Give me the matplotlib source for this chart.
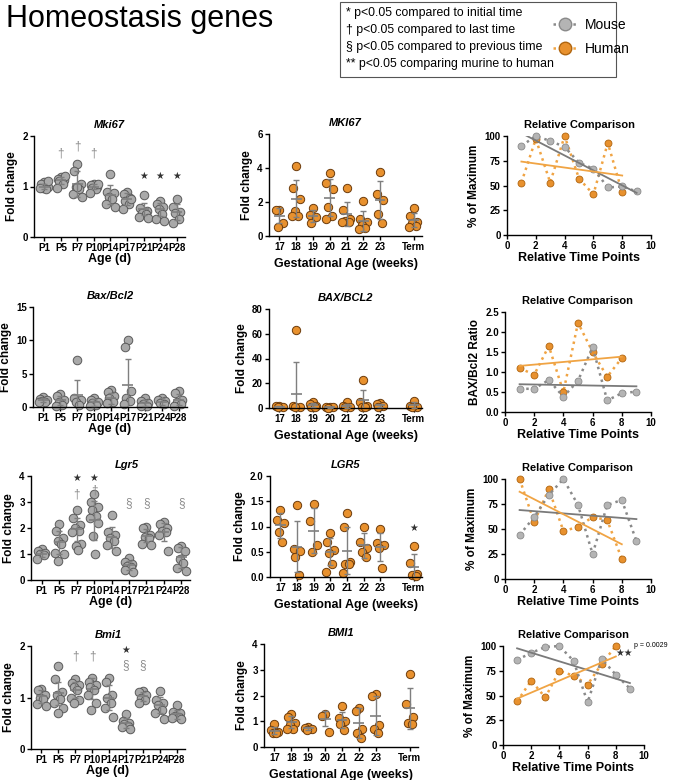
import numpy as np
import matplotlib
matplotlib.use('Agg')
import matplotlib.pyplot as plt
from matplotlib.lines import Line2D
from matplotlib.patches import Rectangle

plt.rcParams['font.family'] = ['Liberation Sans', 'DejaVu Sans']

# ---- data ----
mouse_ages = ['P1', 'P5', 'P7', 'P10', 'P14', 'P17', 'P21', 'P24', 'P28']
human_ages = ['17', '18', '19', '20', '21', '22', '23', 'Term']

# Mki67
mki67_mouse = [[1.08, 1.05, 1.0, 0.98, 0.95, 0.97, 1.1],
               [1.18, 1.15, 1.12, 1.1, 1.05, 0.98, 1.2],
               [1.45, 1.3, 1.05, 1.0, 0.95, 0.85, 0.8, 1.0],
               [1.05, 1.02, 1.0, 0.98, 0.95, 0.88, 1.05],
               [1.25, 0.9, 0.88, 0.8, 0.75, 0.65, 0.6],
               [0.9, 0.85, 0.78, 0.72, 0.65, 0.55, 0.75],
               [0.83, 0.58, 0.52, 0.48, 0.45, 0.4, 0.38],
               [0.72, 0.65, 0.6, 0.55, 0.45, 0.35, 0.32],
               [0.75, 0.6, 0.5, 0.48, 0.35, 0.28]]
mki67_mouse_mean = [1.0, 1.12, 1.05, 1.0, 0.84, 0.75, 0.55, 0.55, 0.5]
mki67_mouse_sd = [0.05, 0.07, 0.25, 0.05, 0.18, 0.12, 0.12, 0.13, 0.16]
mki67_mouse_marks = [('P5', '†', 1.65), ('P7', '†', 1.8), ('P10', '†', 1.65),
                     ('P21', '★', 1.2), ('P24', '★', 1.2), ('P28', '★', 1.2)]

mki67_human = [[1.55, 1.55, 0.75, 0.55],
               [4.1, 2.85, 2.2, 1.45, 1.2, 1.15],
               [1.65, 1.25, 1.1, 0.75],
               [3.7, 3.1, 2.75, 1.7, 1.2, 1.0],
               [2.8, 1.55, 1.0, 0.9, 0.85, 0.8],
               [2.05, 1.0, 0.8, 0.65, 0.45, 0.4],
               [3.75, 2.5, 2.1, 1.3, 0.75],
               [1.65, 1.15, 0.85, 0.75, 0.6, 0.55]]
mki67_human_mean = [1.2, 2.2, 1.2, 2.25, 1.3, 0.9, 2.1, 0.95]
mki67_human_sd = [0.45, 1.1, 0.35, 1.1, 0.72, 0.6, 1.12, 0.4]

# Bax/Bcl2
bax_mouse = [[1.5, 1.2, 1.0, 0.9, 0.8, 0.7],
             [1.9, 1.6, 1.1, 0.8, 0.3, 0.2],
             [7.0, 1.3, 1.1, 0.8, 0.3],
             [1.4, 1.0, 0.8, 0.6, 0.3, 0.1],
             [2.6, 2.2, 1.7, 1.3, 0.8, 0.6],
             [10.1, 9.0, 2.4, 1.3, 0.9, 0.5],
             [1.3, 0.9, 0.6, 0.4, 0.2, 0.1],
             [1.4, 1.1, 0.9, 0.6, 0.4],
             [2.4, 2.1, 1.0, 0.8, 0.4, 0.2]]
bax_mouse_mean = [1.0, 1.0, 1.75, 0.7, 1.3, 3.3, 0.6, 0.8, 1.1]
bax_mouse_sd = [0.3, 0.7, 2.25, 0.5, 0.8, 3.9, 0.5, 0.5, 0.8]

bax_human = [[2.0, 1.5, 1.0, 0.5],
             [63.0, 2.0, 1.0, 0.5],
             [5.0, 3.0, 2.0, 1.0, 0.5],
             [1.0, 0.8, 0.5, 0.3],
             [4.5, 2.0, 1.0, 0.5],
             [23.0, 5.0, 2.0, 1.0, 0.5],
             [4.0, 3.0, 1.5, 1.0],
             [6.0, 2.0, 1.0, 0.5]]
bax_human_mean = [1.0, 11.5, 2.3, 0.6, 1.5, 6.3, 2.2, 2.4]
bax_human_sd = [0.5, 25.5, 1.8, 0.3, 1.5, 8.0, 1.3, 2.4]

# Lgr5
lgr5_mouse = [[1.18, 1.1, 1.05, 1.0, 0.95, 0.8],
              [2.15, 1.9, 1.6, 1.5, 1.4, 1.05, 1.0, 0.75],
              [2.7, 2.4, 2.1, 2.0, 1.9, 1.85, 1.4, 1.3, 1.15],
              [3.3, 3.0, 2.8, 2.7, 2.45, 2.4, 2.2, 1.7, 1.0],
              [2.5, 1.85, 1.75, 1.6, 1.5, 1.35, 1.1],
              [0.85, 0.7, 0.6, 0.55, 0.5, 0.4, 0.3],
              [2.05, 2.0, 1.75, 1.65, 1.6, 1.4, 1.35],
              [2.25, 2.15, 2.0, 1.9, 1.85, 1.75, 1.1],
              [1.3, 1.25, 1.1, 0.8, 0.65, 0.45, 0.35]]
lgr5_mouse_mean = [1.0, 1.45, 1.95, 2.3, 1.65, 0.57, 1.7, 1.85, 0.88]
lgr5_mouse_sd = [0.12, 0.45, 0.45, 0.75, 0.4, 0.18, 0.25, 0.35, 0.4]
lgr5_mouse_marks = [('P7', '★', 3.92), ('P7', '†', 3.3), ('P10', '★', 3.92), ('P10', '†', 3.45),
                    ('P17', '§', 2.95), ('P21', '§', 2.95), ('P28', '§', 2.95)]

lgr5_human = [[1.33, 1.12, 1.06, 0.9, 0.7],
              [1.43, 0.56, 0.52, 0.4, 0.03],
              [1.45, 1.1, 0.63, 0.5],
              [0.88, 0.7, 0.53, 0.47, 0.25, 0.1],
              [1.27, 1.0, 0.3, 0.25, 0.25, 0.08],
              [1.0, 0.7, 0.57, 0.5, 0.4],
              [0.95, 0.68, 0.63, 0.57, 0.18],
              [0.62, 0.27, 0.05, 0.03, 0.02]]
lgr5_human_mean = [1.02, 0.6, 0.92, 0.5, 0.52, 0.63, 0.6, 0.2]
lgr5_human_sd = [0.25, 0.5, 0.44, 0.27, 0.47, 0.25, 0.28, 0.26]
lgr5_human_marks = [('Term', '★', 0.98)]

# Bmi1
bmi1_mouse = [[1.17, 1.15, 1.05, 1.0, 0.97, 0.88, 0.83],
              [1.62, 1.35, 1.1, 1.05, 0.98, 0.9, 0.8, 0.7],
              [1.35, 1.28, 1.25, 1.2, 1.15, 1.0, 0.95, 0.9],
              [1.38, 1.3, 1.25, 1.2, 1.15, 1.05, 0.9, 0.75],
              [1.37, 1.3, 1.05, 1.0, 0.9, 0.8, 0.62],
              [0.68, 0.55, 0.5, 0.48, 0.45, 0.42, 0.38],
              [1.12, 1.1, 1.05, 1.0, 0.95, 0.9],
              [1.13, 0.95, 0.9, 0.85, 0.75, 0.7, 0.58],
              [0.85, 0.72, 0.7, 0.65, 0.62, 0.6, 0.58]]
bmi1_mouse_mean = [1.02, 1.08, 1.15, 1.17, 1.0, 0.5, 1.02, 0.85, 0.67]
bmi1_mouse_sd = [0.12, 0.22, 0.15, 0.2, 0.25, 0.1, 0.08, 0.16, 0.08]
bmi1_mouse_marks = [('P7', '†', 1.8), ('P10', '†', 1.8), ('P17', '★', 1.92),
                    ('P17', '§', 1.62), ('P21', '§', 1.62)]

bmi1_human = [[0.88, 0.67, 0.58, 0.55, 0.53],
              [1.27, 1.15, 0.95, 0.85, 0.7, 0.68],
              [0.77, 0.75, 0.68, 0.65],
              [1.28, 1.2, 0.6],
              [1.6, 1.12, 1.0, 0.9, 0.65],
              [1.52, 1.38, 0.68, 0.55, 0.35],
              [2.05, 1.98, 0.85, 0.7, 0.55],
              [2.82, 1.68, 1.15, 0.95, 0.88]]
bmi1_human_mean = [0.63, 0.97, 0.72, 1.1, 1.05, 0.92, 1.22, 1.5]
bmi1_human_sd = [0.13, 0.23, 0.05, 0.3, 0.3, 0.58, 0.75, 0.8]

# relative comparison panels
rel_mki67_mouse = [90, 100, 95, 89, 73, 67, 48, 49, 44]
rel_mki67_human = [53, 97, 53, 100, 57, 41, 93, 43]
rel_bax_mouse = [0.58, 0.58, 0.8, 0.38, 0.78, 1.62, 0.29, 0.47, 0.51]
rel_bax_human = [1.1, 0.93, 1.65, 0.5, 2.23, 1.5, 0.88, 1.35]
rel_lgr5_mouse = [44, 62, 84, 100, 74, 25, 74, 79, 38]
rel_lgr5_human = [100, 57, 90, 48, 52, 62, 59, 20]
rel_bmi1_mouse = [86, 93, 99, 100, 85, 43, 87, 71, 57]
rel_bmi1_human = [44, 65, 48, 75, 70, 61, 82, 100]

legend_notes = ['* p<0.05 compared to initial time',
                '† p<0.05 compared to last time',
                '§ p<0.05 compared to previous time',
                '** p<0.05 comparing murine to human']

# ---- colours ----
GRAY_FACE = '#a9a9a9'
GRAY_EDGE = '#5a5a5a'
ORANGE_FACE = '#e8912e'
ORANGE_EDGE = '#6b3b0c'
BAR = '#7f7f7f'
GRAY_LINE = '#8a8a8a'
ORANGE_LINE = '#f0a444'

W, H = 683, 780
fig = plt.figure(figsize=(W / 100, H / 100), dpi=100)


def box(x0, x1, y0, y1):
    # axes from pixel box (left, right, top, bottom)
    return fig.add_axes([x0 / W, 1 - y1 / H, (x1 - x0) / W, (y1 - y0) / H])


def style(ax, ylim, yticks, ylabel, xlabel, title, italic=True, xpad=4):
    ax.spines[['top', 'right']].set_visible(False)
    ax.spines[['left', 'bottom']].set_linewidth(1.0)
    ax.set_ylim(*ylim)
    ax.set_yticks(yticks)
    ax.tick_params(length=3, width=1, labelsize=7, pad=1.5)
    for t in ax.get_xticklabels() + ax.get_yticklabels():
        t.set_fontweight('bold')
    ax.set_ylabel(ylabel, fontsize=8.5, fontweight='bold', labelpad=3)
    ax.set_xlabel(xlabel, fontsize=9, fontweight='bold', labelpad=xpad)
    ax.set_title(title, fontsize=8, fontweight='bold', style='italic' if italic else 'normal', pad=6)


OFFSETS = [0.0, -0.2, 0.2, -0.1, 0.12, -0.25, 0.25, -0.05, 0.06]


def dot_panel(ax, labels, groups, means, sds, face, edge, size, marks=()):
    pos = np.arange(len(labels), dtype=float)
    if 'Term' in labels:
        pos[labels.index('Term')] += 1
    for p, vals, m, s in zip(pos, groups, means, sds):
        xs = p + np.array(OFFSETS[:len(vals)])
        ax.scatter(xs, vals, s=size, facecolor=face, edgecolor=edge, linewidth=0.7, zorder=2, clip_on=False)
        ax.errorbar(p, m, yerr=s, fmt='none', ecolor=BAR, elinewidth=1, capsize=2.5, capthick=1, zorder=3)
        ax.hlines(m, p - 0.32, p + 0.32, color=BAR, lw=1.2, zorder=3)
    for lab, sym, y in marks:
        p = pos[labels.index(lab)]
        col = '#333333' if sym == '★' else '#8a8a8a'
        ax.text(p, y, sym, ha='center', va='center', fontsize=7 if sym == '★' else 8.5, color=col)
    ax.set_xticks(pos)
    ax.set_xticklabels(labels)
    ax.set_xlim(pos[0] - 0.62, pos[-1] + 0.5)


def rel_panel(ax, mouse_vals, human_vals):
    xm = np.arange(1, len(mouse_vals) + 1)
    xh = np.arange(1, len(human_vals) + 1)
    ax.plot(xh, human_vals, ls=':', color=ORANGE_LINE, lw=1.8, marker='o', ms=5,
            mfc=ORANGE_FACE, mec='#b0650f', mew=0.6, clip_on=False, zorder=3)
    ax.plot(xm, mouse_vals, ls=':', color=GRAY_LINE, lw=1.8, marker='o', ms=5,
            mfc='#b4b4b4', mec='#8a8a8a', mew=0.6, clip_on=False, zorder=4)
    for x, y, c in [(xm, mouse_vals, '#7a7a7a'), (xh, human_vals, ORANGE_LINE)]:
        fit = np.polyfit(x, y, 1)
        ends = np.array([x[0], x[-1]])
        ax.plot(ends, np.polyval(fit, ends), color=c, lw=1.3, zorder=5)
    ax.set_xlim(0, 10)
    ax.set_xticks([0, 2, 4, 6, 8, 10])


# ---- header ----
fig.text(6 / W, 1 - 19 / H, 'Homeostasis genes', fontsize=22, va='center', ha='left')
fig.patches.append(Rectangle((340 / W, 1 - 77 / H), 276 / W, 75 / H, transform=fig.transFigure,
                             fill=False, edgecolor='#555555', lw=0.8))
for i, note in enumerate(legend_notes):
    fig.text(346 / W, 1 - (13 + 17 * i) / H, note, fontsize=8.8, va='center', ha='left')
handles = [Line2D([], [], ls=':', lw=1.8, color=GRAY_LINE, marker='o', ms=9, mfc='#b4b4b4', mec='#8a8a8a'),
           Line2D([], [], ls=':', lw=1.8, color=ORANGE_LINE, marker='o', ms=9, mfc=ORANGE_FACE, mec='#b0650f')]
fig.legend(handles, ['Mouse', 'Human'], loc='upper left', bbox_to_anchor=(546 / W, 1 - 11 / H),
           frameon=False, fontsize=10, handlelength=1.8, labelspacing=0.75, handletextpad=0.5, borderpad=0)

# ---- row 1: Mki67 ----
ax = box(34, 185, 136, 237)
dot_panel(ax, mouse_ages, mki67_mouse, mki67_mouse_mean, mki67_mouse_sd, GRAY_FACE, GRAY_EDGE, 38, mki67_mouse_marks)
style(ax, (0, 2), [0, 1, 2], 'Fold change', 'Age (d)', 'Mki67', xpad=-0.5)

ax = box(269, 422, 134, 236)
dot_panel(ax, human_ages, mki67_human, mki67_human_mean, mki67_human_sd, ORANGE_FACE, ORANGE_EDGE, 36)
style(ax, (0, 6), [0, 2, 4, 6], 'Fold change', 'Gestational Age (weeks)', 'MKI67')

ax = box(507, 651, 136, 235)
rel_panel(ax, rel_mki67_mouse, rel_mki67_human)
style(ax, (0, 100), [0, 25, 50, 75, 100], '% of Maximum', 'Relative Time Points', 'Relative Comparison',
      italic=False, xpad=0.5)

# ---- row 2: Bax/Bcl2 ----
ax = box(33, 187, 307, 407)
dot_panel(ax, mouse_ages, bax_mouse, bax_mouse_mean, bax_mouse_sd, GRAY_FACE, GRAY_EDGE, 38)
style(ax, (0, 15), [0, 5, 10, 15], 'Fold change', 'Age (d)', 'Bax/Bcl2', xpad=-0.5)

ax = box(269, 422, 309, 408)
dot_panel(ax, human_ages, bax_human, bax_human_mean, bax_human_sd, ORANGE_FACE, ORANGE_EDGE, 36)
style(ax, (0, 80), [0, 20, 40, 60, 80], 'Fold change', 'Gestational Age (weeks)', 'BAX/BCL2')

ax = box(505, 651, 312, 412)
rel_panel(ax, rel_bax_mouse, rel_bax_human)
style(ax, (0, 2.5), [0, 0.5, 1.0, 1.5, 2.0, 2.5], 'BAX/Bcl2 Ratio', 'Relative Time Points', 'Relative Comparison',
      italic=False, xpad=0.5)
ax.set_yticklabels(['0.0', '0.5', '1.0', '1.5', '2.0', '2.5'], fontweight='bold')

# ---- row 3: Lgr5 ----
ax = box(31, 190, 476, 580)
dot_panel(ax, mouse_ages, lgr5_mouse, lgr5_mouse_mean, lgr5_mouse_sd, GRAY_FACE, GRAY_EDGE, 38, lgr5_mouse_marks)
style(ax, (0, 4), [0, 1, 2, 3, 4], 'Fold change', 'Age (d)', 'Lgr5', xpad=-0.5)
ax.title.set_position((0.6, 1.0))

ax = box(270, 422, 476, 577)
dot_panel(ax, human_ages, lgr5_human, lgr5_human_mean, lgr5_human_sd, ORANGE_FACE, ORANGE_EDGE, 36, lgr5_human_marks)
style(ax, (0, 2), [0, 0.5, 1.0, 1.5, 2.0], 'Fold change', 'Gestational Age (weeks)', 'LGR5')
ax.set_yticklabels(['0.0', '0.5', '1.0', '1.5', '2.0'], fontweight='bold')

ax = box(505, 651, 479, 579)
rel_panel(ax, rel_lgr5_mouse, rel_lgr5_human)
style(ax, (0, 100), [0, 25, 50, 75, 100], '% of Maximum', 'Relative Time Points', 'Relative Comparison',
      italic=False, xpad=0.5)

# ---- row 4: Bmi1 ----
ax = box(31, 185, 646, 749)
dot_panel(ax, mouse_ages, bmi1_mouse, bmi1_mouse_mean, bmi1_mouse_sd, GRAY_FACE, GRAY_EDGE, 38, bmi1_mouse_marks)
style(ax, (0, 2), [0, 1, 2], 'Fold change', 'Age (d)', 'Bmi1', xpad=-0.5)

ax = box(264, 418, 644, 747)
dot_panel(ax, human_ages, bmi1_human, bmi1_human_mean, bmi1_human_sd, ORANGE_FACE, ORANGE_EDGE, 36)
style(ax, (0, 4), [0, 1, 2, 3, 4], 'Fold change', 'Gestational Age (weeks)', 'BMI1')

ax = box(503, 644, 646, 745)
rel_panel(ax, rel_bmi1_mouse, rel_bmi1_human)
style(ax, (0, 100), [0, 25, 50, 75, 100], '% of Maximum', 'Relative Time Points', 'Relative Comparison',
      italic=False, xpad=0.5)
ax.text(8.6, 93, '★★', fontsize=7, ha='center', va='center', color='#333333', clip_on=False)
ax.text(9.3, 101, 'p = 0.0029', fontsize=5, ha='left', va='center', clip_on=False)

fig.savefig('out.png', dpi=100)
